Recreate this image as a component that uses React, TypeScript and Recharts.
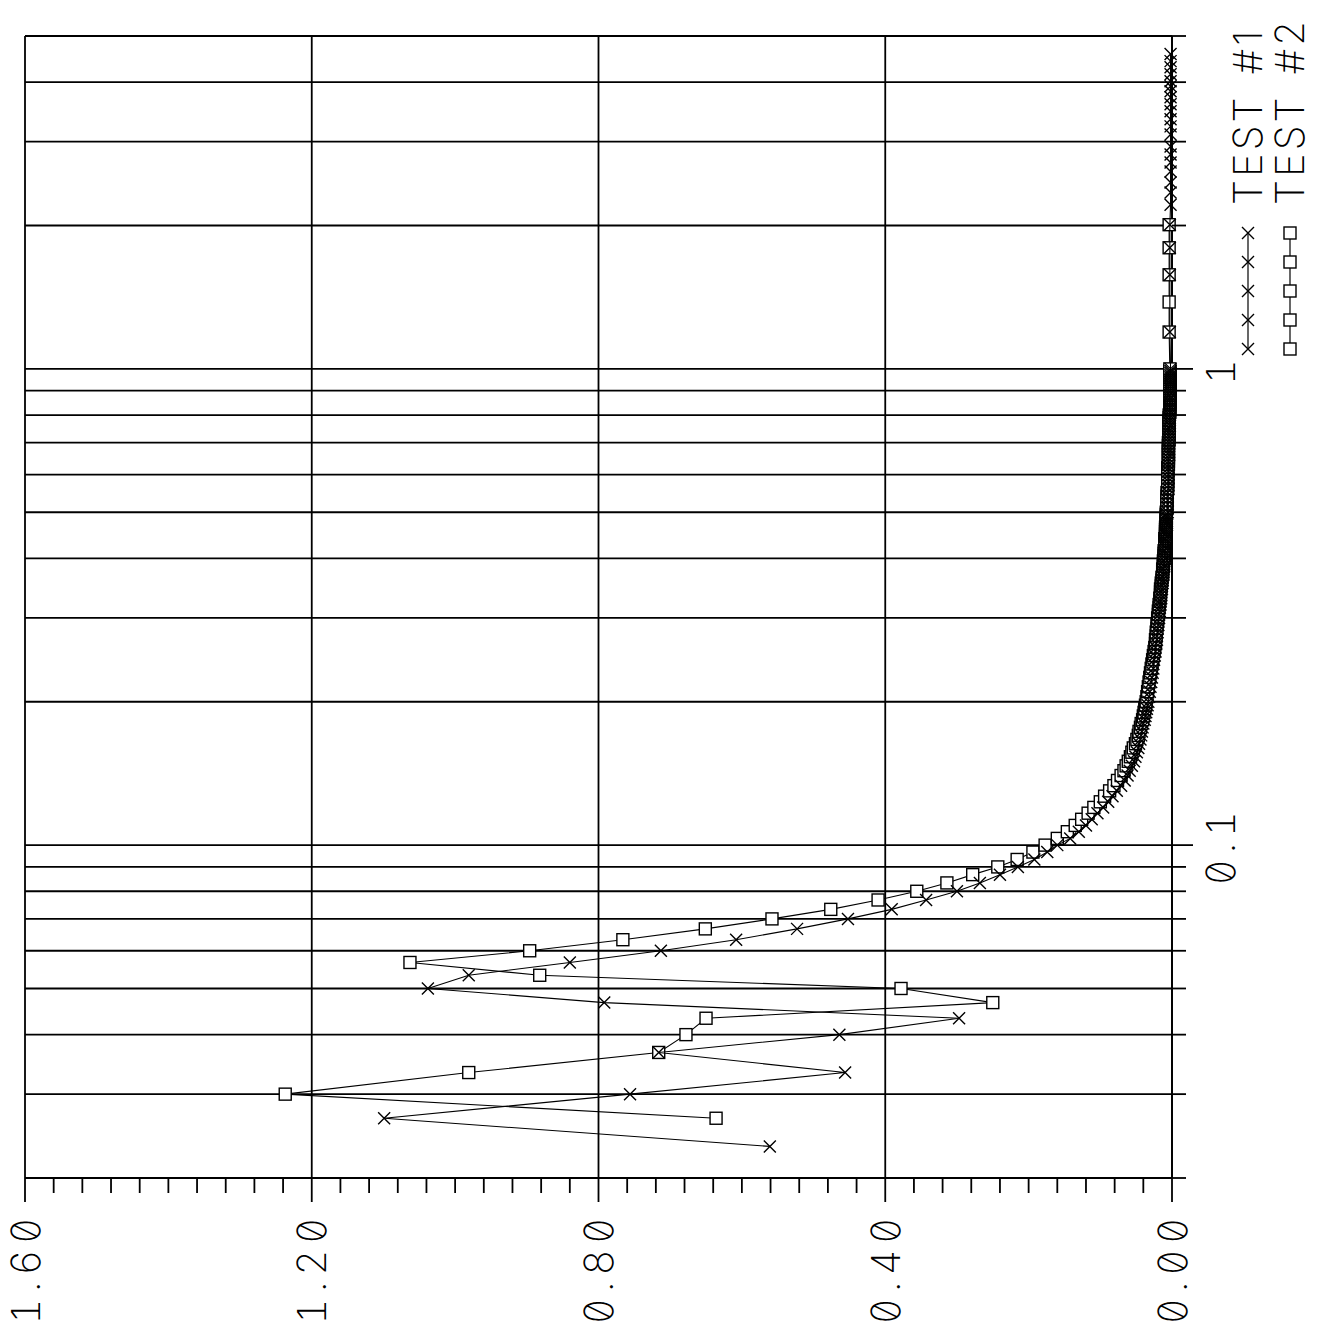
import React from "react";
import { ScatterChart, Scatter, XAxis, YAxis, CartesianGrid, ReferenceLine, Legend } from "recharts";

// log axis (frequency) ticks; only 0.1 and 1 carry a label
const freqTicks = [0.02, 0.03, 0.04, 0.05, 0.06, 0.07, 0.08, 0.09, 0.1, 0.2, 0.3, 0.4, 0.5, 0.6, 0.7, 0.8, 0.9, 1, 2, 3, 4, 5];
const freqLabeled = [0.1, 1];

// value axis: minor ticks every 0.04, grid + label every 0.4
const valueTicks = [
  0, 0.04, 0.08, 0.12, 0.16, 0.2, 0.24, 0.28, 0.32, 0.36, 0.4, 0.44, 0.48, 0.52, 0.56, 0.6, 0.64, 0.68, 0.72, 0.76, 0.8,
  0.84, 0.88, 0.92, 0.96, 1, 1.04, 1.08, 1.12, 1.16, 1.2, 1.24, 1.28, 1.32, 1.36, 1.4, 1.44, 1.48, 1.52, 1.56, 1.6,
];
const valueMajor = [0, 0.4, 0.8, 1.2, 1.6];
const valueLabels = ["0.00", "0.40", "0.80", "1.20", "1.60"];

// shared frequencies up to 1
const freq = [
  0.0233, 0.0267, 0.03, 0.0333, 0.0367, 0.04, 0.0433, 0.0467, 0.05, 0.0533, 0.0567, 0.06, 0.0633, 0.0667, 0.07, 0.0733,
  0.0767, 0.08, 0.0833, 0.0867, 0.09, 0.0933, 0.0967, 0.1,
  0.1033, 0.1067, 0.11, 0.1133, 0.1167, 0.12, 0.1233, 0.1267, 0.13, 0.1333, 0.1367, 0.14, 0.1433, 0.1467, 0.15, 0.1533,
  0.1567, 0.16, 0.1633, 0.1667, 0.17, 0.1733, 0.1767, 0.18, 0.1833, 0.1867, 0.19, 0.1933, 0.1967, 0.2,
  0.205, 0.21, 0.215, 0.22, 0.225, 0.23, 0.235, 0.24, 0.245, 0.25, 0.255, 0.26, 0.265, 0.27, 0.275, 0.28, 0.285, 0.29,
  0.295, 0.3, 0.305, 0.31, 0.315, 0.32, 0.325, 0.33, 0.335, 0.34, 0.345, 0.35, 0.355, 0.36, 0.365, 0.37, 0.375, 0.38,
  0.385, 0.39, 0.395, 0.4, 0.405, 0.41, 0.415, 0.42, 0.425, 0.43, 0.435, 0.44, 0.445, 0.45, 0.455, 0.46, 0.465, 0.47,
  0.475, 0.48, 0.485, 0.49, 0.495, 0.5,
  0.51, 0.52, 0.53, 0.54, 0.55, 0.56, 0.57, 0.58, 0.59, 0.6, 0.61, 0.62, 0.63, 0.64, 0.65, 0.66, 0.67, 0.68, 0.69, 0.7,
  0.71, 0.72, 0.73, 0.74, 0.75, 0.76, 0.77, 0.78, 0.79, 0.8, 0.81, 0.82, 0.83, 0.84, 0.85, 0.86, 0.87, 0.88, 0.89, 0.9,
  0.91, 0.92, 0.93, 0.94, 0.95, 0.96, 0.97, 0.98, 0.99, 1.0,
];

const test1 = [
  0.561, 1.099, 0.756, 0.456, 0.716, 0.464, 0.297, 0.792, 1.038, 0.981, 0.84, 0.713, 0.608, 0.523, 0.452, 0.391,
  0.343, 0.3, 0.268, 0.24, 0.215, 0.192, 0.174, 0.16,
  0.142, 0.13, 0.12, 0.112, 0.104, 0.096, 0.089, 0.083, 0.077, 0.071, 0.066, 0.062, 0.059, 0.056, 0.053, 0.051,
  0.049, 0.047, 0.046, 0.044, 0.043, 0.042, 0.041, 0.04, 0.038, 0.037, 0.036, 0.035, 0.034, 0.033,
  0.032, 0.031, 0.03, 0.029, 0.028, 0.027, 0.026, 0.026, 0.025, 0.024, 0.023, 0.023, 0.022, 0.021, 0.021, 0.02, 0.02,
  0.019, 0.019, 0.018, 0.018, 0.017, 0.017, 0.016, 0.016, 0.015, 0.015, 0.015, 0.014, 0.014, 0.013, 0.013, 0.013,
  0.012, 0.012, 0.012, 0.011, 0.011, 0.011, 0.01, 0.01, 0.01, 0.01, 0.009, 0.009, 0.009, 0.009, 0.009, 0.008, 0.008,
  0.008, 0.008, 0.008, 0.007, 0.007, 0.007, 0.007, 0.007, 0.007, 0.006,
  0.006, 0.006, 0.006, 0.006, 0.006, 0.005, 0.005, 0.005, 0.005, 0.005, 0.005, 0.005, 0.005, 0.005, 0.005, 0.004,
  0.004, 0.004, 0.004, 0.004, 0.004, 0.004, 0.004, 0.004, 0.004, 0.003, 0.003, 0.003, 0.003, 0.003, 0.003, 0.003,
  0.003, 0.003, 0.003, 0.003, 0.003, 0.003, 0.002, 0.002, 0.002, 0.002, 0.002, 0.002, 0.002, 0.002, 0.002, 0.002,
  0.002, 0.002,
];

const test2 = [
  null, 0.636, 1.237, 0.981, 0.716, 0.678, 0.65, 0.25, 0.378, 0.882, 1.063, 0.896, 0.766, 0.651, 0.558, 0.476,
  0.41, 0.356, 0.314, 0.278, 0.243, 0.216, 0.194, 0.177,
  0.16, 0.146, 0.135, 0.126, 0.117, 0.109, 0.1, 0.094, 0.087, 0.081, 0.076, 0.071, 0.067, 0.064, 0.061, 0.058,
  0.056, 0.054, 0.051, 0.049, 0.047, 0.046, 0.044, 0.043, 0.041, 0.04, 0.039, 0.038, 0.037, 0.036,
  0.035, 0.034, 0.033, 0.032, 0.031, 0.03, 0.029, 0.028, 0.027, 0.026, 0.025, 0.024, 0.023, 0.023, 0.022, 0.022,
  0.021, 0.021, 0.02, 0.02, 0.019, 0.019, 0.018, 0.018, 0.017, 0.017, 0.016, 0.016, 0.016, 0.015, 0.015, 0.014,
  0.014, 0.013, 0.013, 0.013, 0.012, 0.012, 0.012, 0.011, 0.011, 0.011, 0.011, 0.01, 0.01, 0.01, 0.01, 0.01, 0.009,
  0.009, 0.009, 0.009, 0.009, 0.008, 0.008, 0.008, 0.008, 0.008, 0.008, 0.008,
  0.007, 0.007, 0.007, 0.007, 0.007, 0.006, 0.006, 0.006, 0.006, 0.006, 0.006, 0.006, 0.005, 0.005, 0.005, 0.005,
  0.005, 0.005, 0.005, 0.005, 0.004, 0.004, 0.004, 0.004, 0.004, 0.004, 0.004, 0.004, 0.004, 0.004, 0.003, 0.003,
  0.003, 0.003, 0.003, 0.003, 0.003, 0.003, 0.003, 0.003, 0.003, 0.003, 0.003, 0.003, 0.003, 0.003, 0.003, 0.003,
  0.003, 0.003,
];

// sparse points above 1
const freqHigh1 = [
  1.195, 1.576, 1.796, 2.008, 2.212, 2.346, 2.462, 2.596, 2.712, 2.82, 2.931, 3.107, 3.23, 3.342, 3.474, 3.594,
  3.718, 3.828, 3.922, 4.018, 4.158, 4.3, 4.428, 4.582,
];
const test1High = [
  0.003, 0.003, 0.003, 0.003, 0.002, 0.002, 0.002, 0.002, 0.002, 0.002, 0.002, 0.002, 0.002, 0.002, 0.002, 0.002,
  0.002, 0.002, 0.002, 0.002, 0.002, 0.002, 0.002, 0.002,
];
const freqHigh2 = [1.195, 1.382, 1.576, 1.796, 2.008];
const test2High = [0.004, 0.004, 0.004, 0.004, 0.004];

const series1 = freq
  .map((f, i) => ({ f, v: test1[i] }))
  .concat(freqHigh1.map((f, i) => ({ f, v: test1High[i] })));
const series2 = freq
  .map((f, i) => ({ f, v: test2[i] }))
  .filter((d) => d.v !== null)
  .concat(freqHigh2.map((f, i) => ({ f, v: test2High[i] })));

const INK = "#000";
const FONT = "Inter, 'DejaVu Sans', sans-serif";
const labelStyle: React.CSSProperties = {
  fontFamily: FONT,
  fontSize: 40,
  fontWeight: 200,
  letterSpacing: 6,
  fontFeatureSettings: '"zero" 1, "tnum" 1',
  fill: INK,
};

function FreqTick({ x, y, payload }: any) {
  const major = freqLabeled.includes(payload.value);
  return (
    <g>
      <line x1={x} y1={y} x2={x} y2={y + (major ? 21 : 14)} stroke={INK} strokeWidth={1.8} />
      {major && (
        <text x={x} y={y + 48} textAnchor="middle" dominantBaseline="central" style={labelStyle}>
          {String(payload.value)}
        </text>
      )}
    </g>
  );
}

function ValueTick({ x, y, payload }: any) {
  const idx = valueMajor.findIndex((m) => Math.abs(m - payload.value) < 1e-9);
  const major = idx >= 0;
  return (
    <g>
      <line x1={x - (major ? 24 : 15)} y1={y} x2={x} y2={y} stroke={INK} strokeWidth={1.8} />
      {major && (
        <text x={x - 90} y={y} textAnchor="middle" dominantBaseline="central" style={labelStyle}>
          {valueLabels[idx]}
        </text>
      )}
    </g>
  );
}

function Cross({ cx, cy }: any) {
  return (
    <path
      d={`M${cx - 6},${cy - 6}L${cx + 6},${cy + 6}M${cx + 6},${cy - 6}L${cx - 6},${cy + 6}`}
      stroke={INK}
      strokeWidth={1.4}
      fill="none"
    />
  );
}

function Square({ cx, cy }: any) {
  return <rect x={cx - 6} y={cy - 6} width={12} height={12} fill="#fff" stroke={INK} strokeWidth={1.4} />;
}

function LegendContent() {
  const rows = [
    { name: "TEST #1", cross: true },
    { name: "TEST #2", cross: false },
  ];
  const marks = [7, 36, 65, 94, 123];
  return (
    <div style={{ width: 360 }}>
      {rows.map((r) => (
        <div key={r.name} style={{ display: "flex", alignItems: "center", height: 42 }}>
          <svg width={130} height={20} style={{ flex: "none" }}>
            <line x1={7} y1={10} x2={123} y2={10} stroke={INK} strokeWidth={1.2} />
            {marks.map((p) => (r.cross ? <Cross key={p} cx={p} cy={10} /> : <Square key={p} cx={p} cy={10} />))}
          </svg>
          <span
            style={{
              marginLeft: 21,
              fontFamily: FONT,
              fontSize: 40,
              fontWeight: 200,
              letterSpacing: 3,
              wordSpacing: 6,
              lineHeight: "42px",
              whiteSpace: "pre",
              color: INK,
            }}
          >
            {r.name}
          </span>
        </div>
      ))}
    </div>
  );
}

export default function App() {
  return (
    <div
      style={{
        position: "absolute",
        left: 0,
        top: 0,
        width: 1332,
        height: 1325,
        background: "#fff",
        transformOrigin: "0 0",
        transform: "translateY(1332px) rotate(-90deg)",
      }}
    >
      <ScatterChart width={1332} height={1325} margin={{ top: 25, right: 36, bottom: 53, left: 0 }}>
        <CartesianGrid horizontal={false} stroke={INK} strokeWidth={1.8} />
        {valueMajor.map((v) => (
          <ReferenceLine key={v} y={v} stroke={INK} strokeWidth={1.8} ifOverflow="visible" />
        ))}
        <XAxis
          dataKey="f"
          type="number"
          scale="log"
          domain={[0.02, 5]}
          ticks={freqTicks}
          interval={0}
          height={100}
          tickSize={0}
          tickMargin={0}
          tickLine={false}
          axisLine={{ stroke: INK, strokeWidth: 1.8 }}
          tick={<FreqTick />}
        />
        <YAxis
          dataKey="v"
          type="number"
          domain={[0, 1.6]}
          ticks={valueTicks}
          interval={0}
          width={154}
          tickSize={0}
          tickMargin={0}
          tickLine={false}
          axisLine={{ stroke: INK, strokeWidth: 1.8 }}
          tick={<ValueTick />}
        />
        <Legend
          verticalAlign="middle"
          align="center"
          content={<LegendContent />}
          wrapperStyle={{ left: 976, top: 1227, width: 360, height: 84 }}
        />
        <Scatter
          name="TEST #2"
          data={series2}
          line={{ stroke: INK, strokeWidth: 1.1 }}
          shape={<Square />}
          isAnimationActive={false}
        />
        <Scatter
          name="TEST #1"
          data={series1}
          line={{ stroke: INK, strokeWidth: 1.1 }}
          shape={<Cross />}
          isAnimationActive={false}
        />
      </ScatterChart>
    </div>
  );
}
